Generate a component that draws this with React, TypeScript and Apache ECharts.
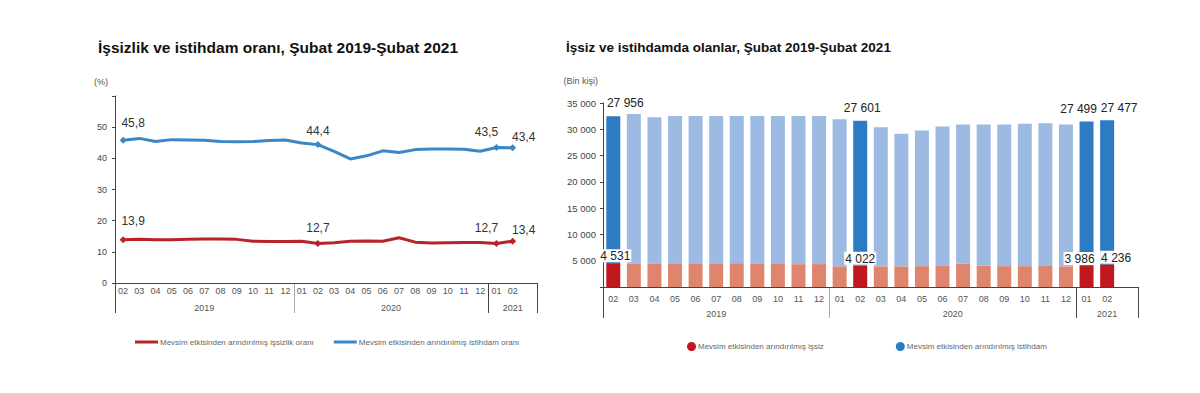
import { useEffect, useRef } from 'react';
import * as echarts from 'echarts';

// ---------- data ----------
const months = ['02', '03', '04', '05', '06', '07', '08', '09', '10', '11', '12',
  '01', '02', '03', '04', '05', '06', '07', '08', '09', '10', '11', '12',
  '01', '02'];
const axisCategories = [...months, ''];
const yearLabels = ['2019', '2020', '2021'];
const yearStartIndex = [0, 11, 23];

const unemploymentRate = [13.9, 14.0, 13.9, 13.9, 14.0, 14.1, 14.1, 14.0, 13.4, 13.3, 13.3,
  13.4, 12.7, 12.9, 13.4, 13.5, 13.4, 14.5, 13.1, 12.8, 12.9, 13.0, 13.0,
  12.7, 13.4];
const employmentRate = [45.8, 46.4, 45.4, 46.0, 45.9, 45.8, 45.4, 45.3, 45.4, 45.7, 45.9,
  44.9, 44.4, 42.2, 39.8, 40.8, 42.4, 41.9, 42.8, 43.0, 43.0, 42.9, 42.3,
  43.5, 43.4];

const unemployed = [4531, 4470, 4430, 4440, 4470, 4500, 4520, 4470, 4380, 4330, 4350,
  3900, 4022, 3900, 3900, 3960, 4090, 4400, 4020, 3960, 3960, 4090, 3900,
  3986, 4236];
const employed = [27956, 28458, 27868, 28110, 28080, 28050, 28030, 28080, 28170, 28220, 28200,
  28020, 27601, 26508, 25248, 25818, 26444, 26512, 26892, 26952, 27078, 27074, 27012,
  27499, 27477];

const highlighted = [0, 12, 23, 24];

const leftTitle = 'İşsizlik ve istihdam oranı, Şubat 2019-Şubat 2021';
const rightTitle = 'İşsiz ve istihdamda olanlar, Şubat 2019-Şubat 2021';
const nameUnempRate = 'Mevsim etkisinden arındırılmış işsizlik oranı';
const nameEmpRate = 'Mevsim etkisinden arındırılmış istihdam oranı';
const nameUnemp = 'Mevsim etkisinden arındırılmış işsiz';
const nameEmp = 'Mevsim etkisinden arındırılmış istihdam';

// ---------- styles ----------
const FONT = '"Liberation Sans", Arial, sans-serif';
const RED = '#B8232A';
const BLUE = '#3B86C6';
const BAR_RED = '#C0181E';
const BAR_RED_LIGHT = '#E0856D';
const BAR_BLUE = '#2C7BC3';
const BAR_BLUE_LIGHT = '#9DBAE2';

const blueLabelOffset: Record<number, number[]> = { 0: [10, -2], 12: [0, 2], 23: [-10, 0], 24: [11, 5] };
const redLabelOffset: Record<number, number[]> = { 0: [10, -3], 12: [0, 0], 23: [-10, 0], 24: [11, 4] };
const empLabelOffset: Record<number, number[]> = { 0: [12, -4], 12: [2, -4], 23: [-8, -3], 24: [12, -3] };
const unempLabelOffset: Record<number, number[]> = { 0: [2, 0], 12: [0, 0], 23: [-7, 0], 24: [9, 0] };

const fmtComma = (v: number) => String(v.toFixed(1)).replace('.', ',');
const fmtThousand = (v: number) => String(v).replace(/\B(?=(\d{3})+(?!\d))/g, ' ');

function lineData(values: number[], offsets: Record<number, number[]>) {
  return values.map((v, i) => {
    const hl = highlighted.includes(i);
    return {
      value: v,
      symbol: hl ? 'diamond' : 'none',
      symbolSize: 7,
      label: hl
        ? { show: true, position: 'top', distance: 6, offset: offsets[i], formatter: () => fmtComma(v) }
        : { show: false },
    };
  });
}

function barData(values: number[], dark: string, light: string, offsets: Record<number, number[]>, withBg: boolean) {
  return values.map((v, i) => {
    const hl = highlighted.includes(i);
    return {
      value: v,
      itemStyle: { color: hl ? dark : light },
      label: hl
        ? {
            show: true,
            position: 'top',
            distance: withBg ? 1 : 3,
            offset: offsets[i],
            formatter: () => fmtThousand(v),
            backgroundColor: withBg ? '#fff' : 'transparent',
            padding: withBg ? [1, 1, 0, 1] : 0,
          }
        : { show: false },
    };
  });
}

export default function App() {
  const ref = useRef<HTMLDivElement>(null);

  useEffect(() => {
    if (!ref.current) return;
    const chart = echarts.init(ref.current, null, { renderer: 'svg' });

    const commonXAxis = {
      type: 'category',
      data: axisCategories,
      boundaryGap: true,
      axisLine: { show: true, lineStyle: { color: '#444', width: 1 } },
      axisTick: { show: false },
      axisLabel: { color: '#555', fontSize: 9, fontFamily: FONT, interval: 0 },
      splitLine: { show: false },
    };

    const option: any = {
      animation: false,
      backgroundColor: '#fff',
      textStyle: { fontFamily: FONT },
      title: [
        { text: leftTitle, left: 93, top: 34, textStyle: { fontSize: 15.5, fontWeight: 'bold', color: '#111', fontFamily: FONT } },
        { text: rightTitle, left: 561, top: 35, textStyle: { fontSize: 13.5, fontWeight: 'bold', color: '#111', fontFamily: FONT } },
      ],
      legend: [
        {
          left: 130, top: 333, itemWidth: 23, itemHeight: 3, itemGap: 20, icon: 'rect',
          textStyle: { fontSize: 8, color: '#666', fontFamily: FONT, padding: [0, 0, 0, -3] },
          data: [
            { name: nameUnempRate, itemStyle: { color: RED } },
            { name: nameEmpRate, itemStyle: { color: BLUE } },
          ],
        },
        {
          left: 682, top: 337, itemWidth: 9, itemHeight: 9, itemGap: 72, icon: 'circle',
          textStyle: { fontSize: 8, color: '#666', fontFamily: FONT, padding: [0, 0, 0, -3] },
          data: [
            { name: nameUnemp, itemStyle: { color: BAR_RED } },
            { name: nameEmp, itemStyle: { color: BAR_BLUE } },
          ],
        },
      ],
      grid: [
        { left: 115, right: 663, top: 96, bottom: 110 },
        { left: 603, right: 62, top: 103, bottom: 106 },
      ],
      xAxis: [
        { ...commonXAxis, gridIndex: 0, axisLabel: { ...commonXAxis.axisLabel, margin: 3 } },
        { ...commonXAxis, gridIndex: 1, axisLabel: { ...commonXAxis.axisLabel, margin: 7 } },
      ],
      yAxis: [
        {
          type: 'value', gridIndex: 0, min: 0, max: 60, interval: 10,
          name: '(%)', nameLocation: 'end', nameGap: 10,
          nameTextStyle: { align: 'right', color: '#555', fontSize: 9, fontFamily: FONT, padding: [0, 7, 0, 0] },
          axisLine: { show: true, lineStyle: { color: '#444' } },
          axisTick: { show: true, length: 3, lineStyle: { color: '#444' } },
          axisLabel: { color: '#444', fontSize: 9, fontFamily: FONT, margin: 8, formatter: (v: number) => (v === 60 ? '' : String(v)) },
          splitLine: { show: false },
        },
        {
          type: 'value', gridIndex: 1, min: 0, max: 35000, interval: 5000,
          name: '(Bin kişi)', nameLocation: 'end', nameGap: 18,
          nameTextStyle: { align: 'right', color: '#555', fontSize: 9, fontFamily: FONT, padding: [0, 5, 0, 0] },
          axisLine: { show: true, lineStyle: { color: '#444' } },
          axisTick: { show: true, length: 3, lineStyle: { color: '#444' } },
          axisLabel: { color: '#444', fontSize: 9.5, fontFamily: FONT, margin: 7, formatter: (v: number) => (v === 0 ? '' : fmtThousand(v)) },
          splitLine: { show: false },
        },
      ],
      series: [
        {
          name: nameUnempRate, type: 'line', xAxisIndex: 0, yAxisIndex: 0,
          data: lineData(unemploymentRate, redLabelOffset),
          lineStyle: { color: RED, width: 3 }, itemStyle: { color: RED },
          label: { color: '#333', fontSize: 12, fontFamily: FONT },
        },
        {
          name: nameEmpRate, type: 'line', xAxisIndex: 0, yAxisIndex: 0,
          data: lineData(employmentRate, blueLabelOffset),
          lineStyle: { color: BLUE, width: 3 }, itemStyle: { color: BLUE },
          label: { color: '#333', fontSize: 12, fontFamily: FONT },
        },
        {
          name: nameUnemp, type: 'bar', xAxisIndex: 1, yAxisIndex: 1, stack: 'total', z: 3,
          barWidth: '68%', itemStyle: { color: BAR_RED },
          data: barData(unemployed, BAR_RED, BAR_RED_LIGHT, unempLabelOffset, true),
          label: { color: '#222', fontSize: 12, fontFamily: FONT },
        },
        {
          name: nameEmp, type: 'bar', xAxisIndex: 1, yAxisIndex: 1, stack: 'total', z: 2,
          barWidth: '68%', itemStyle: { color: BAR_BLUE },
          data: barData(employed, BAR_BLUE, BAR_BLUE_LIGHT, empLabelOffset, false),
          label: { color: '#222', fontSize: 12, fontFamily: FONT },
        },
      ],
    };

    chart.setOption(option);

    // year boxes under the month labels, derived from the axes
    const graphics: any[] = [];
    const boxDepth = [30, 31];
    const yearLabelDrop = [25, 27];
    [0, 1].forEach((g) => {
      const p0 = chart.convertToPixel({ gridIndex: g } as any, [0, 0]) as number[];
      const p1 = chart.convertToPixel({ gridIndex: g } as any, [1, 0]) as number[];
      const bw = p1[0] - p0[0];
      const axisY = p0[1];
      const boundary = (i: number) => p0[0] - bw / 2 + i * bw;
      const bounds = [...yearStartIndex, axisCategories.length];
      bounds.forEach((b, k) => {
        const x = Math.round(boundary(b)) + 0.5;
        graphics.push({
          type: 'line',
          shape: { x1: x, y1: axisY, x2: x, y2: axisY + boxDepth[g] },
          style: { stroke: k === 1 ? '#aaa' : '#444', lineWidth: 1 },
          silent: true,
        });
      });
      yearLabels.forEach((label, k) => {
        const cx = (boundary(bounds[k]) + boundary(bounds[k + 1])) / 2;
        graphics.push({
          type: 'text',
          x: cx,
          y: axisY + yearLabelDrop[g],
          style: { text: label, fill: '#555', fontSize: 9, fontFamily: FONT, align: 'center', verticalAlign: 'middle' },
          silent: true,
        });
      });
    });
    chart.setOption({ graphic: graphics });

    return () => chart.dispose();
  }, []);

  return <div ref={ref} style={{ position: 'absolute', left: 0, top: 0, width: 1200, height: 393 }} />;
}
